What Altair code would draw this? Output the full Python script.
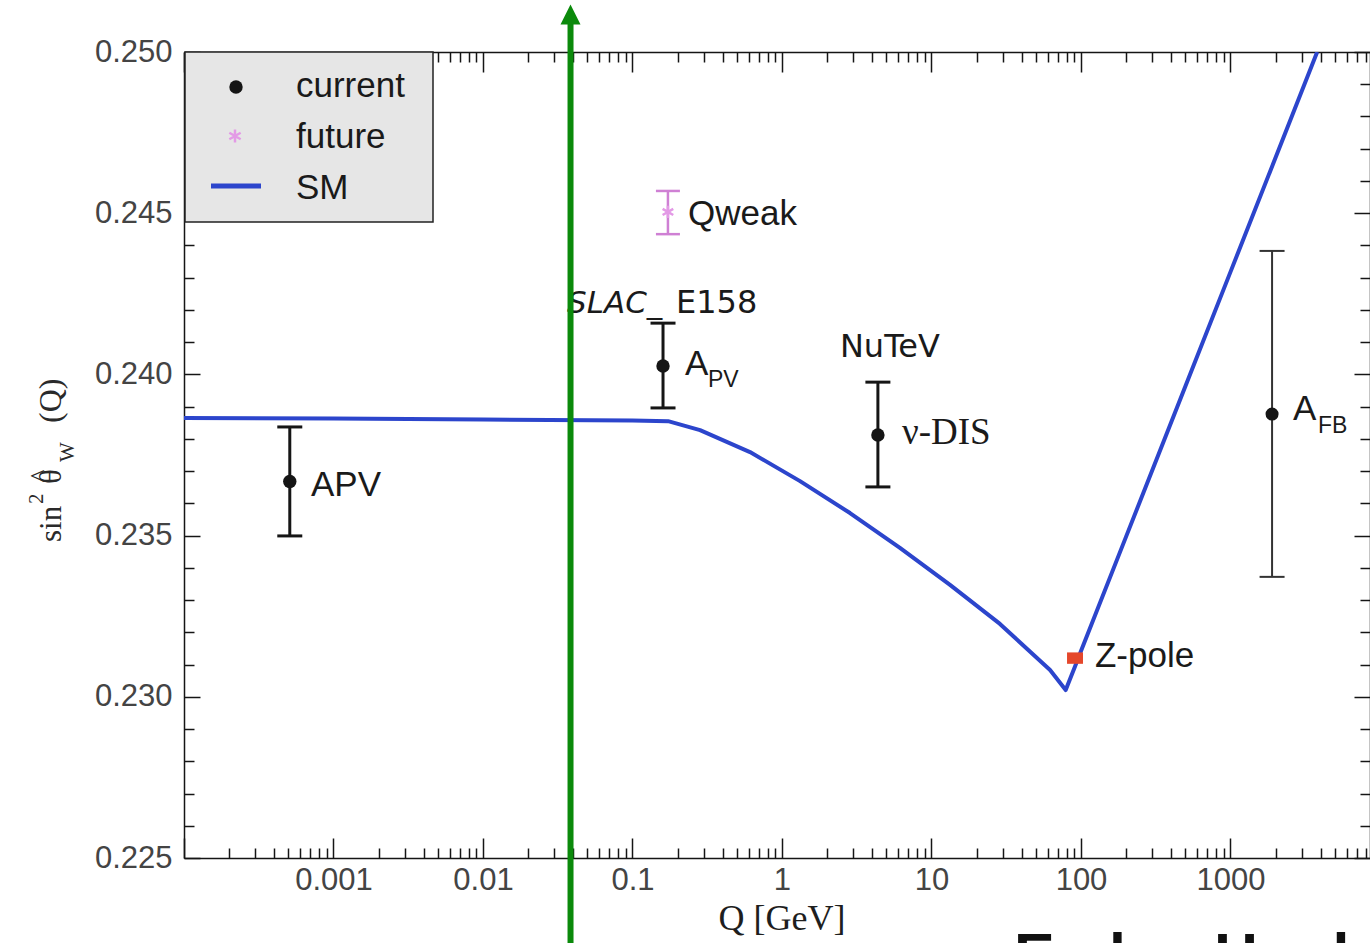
import altair as alt
import pandas as pd

W, H = 1186, 806
XMIN, XMAX = 1e-4, 8573.0

# ---- Standard Model running curve ----
sm_q = [1e-4, 1e-3, 1e-2, 0.1, 0.173, 0.283, 0.611, 1.32, 2.85, 6.15, 13.3, 28.7, 62.1, 79.0,
        91.19, 100, 200, 500, 1000, 2000, 3800]
sm_v = [0.23865, 0.23863, 0.23860, 0.23857, 0.23855, 0.23827, 0.23759, 0.23669, 0.23570, 0.23462,
        0.23347, 0.23226, 0.23083, 0.23021, 0.23094, 0.23142, 0.23496, 0.23964, 0.24318, 0.24672, 0.2500]

# ---- current measurements ----
cur_q = [0.00051, 0.16, 4.38]
cur_v = [0.23668, 0.24026, 0.23812]
cur_lo = [0.23499, 0.23896, 0.23651]
cur_hi = [0.23837, 0.24159, 0.23976]

afb_q = [1897.0]
afb_v = [0.23877]
afb_lo = [0.23372]
afb_hi = [0.24383]

# ---- future ----
qw_q = [0.1726]
qw_v = [0.24504]
qw_lo = [0.24435]
qw_hi = [0.24569]

# ---- Z pole ----
z_q = [91.19]
z_v = [0.2312]

# ---- labels ----
sans_txt = ["APV", "Qweak", "Z-pole", "A", "A"]
sans_q = [0.000707, 0.235, 124.0, 0.2244, 2618.0]
sans_v = [0.23623, 0.24463, 0.23092, 0.23998, 0.23859]
sub_txt = ["PV", "FB"]
sub_q = [0.320, 3846.0]
sub_v = [0.23961, 0.23818]
dv_txt = ["E158", "NuTeV"]
dv_q = [0.1954, 2.44]
dv_v = [0.24190, 0.24054]
it_txt = ["SLAC_"]
it_q = [0.0365]
it_v = [0.24190]
serif_txt = ["\u03bd-DIS"]
serif_q = [6.35]
serif_v = [0.23784]

arrow_q = [0.0385]

x_labels = [0.001, 0.01, 0.1, 1, 10, 100, 1000]
y_labels = [0.225, 0.230, 0.235, 0.240, 0.245, 0.250]
x_ticks = [float(f"{k}e{n}") for n in range(-4, 4) for k in range(1, 10) if float(f"{k}e{n}") <= XMAX]
y_ticks = [round(0.225 + i * 0.001, 3) for i in range(26)]

xs = alt.Scale(type="log", domain=[XMIN, XMAX], nice=False)
ys = alt.Scale(domain=[0.225, 0.250], nice=False, zero=False)

MAJ_X = "abs(log(datum.value)/LN10 - round(log(datum.value)/LN10)) < 0.001"
MAJ_Y = "abs(datum.value*200 - round(datum.value*200)) < 0.001"
INK = "#151515"


def tick_axis(orient, offset, values, test, big, small, domain):
    return alt.Axis(orient=orient, offset=offset, values=values, labels=False, grid=False,
                    domain=domain, domainColor=INK, domainWidth=1.5, tickColor=INK, tickWidth=1.5,
                    tickSize={"condition": {"test": test, "value": big}, "value": small}, title=None)


ax_bottom = alt.Axis(orient="bottom", values=x_labels, format="~g", ticks=False, grid=False,
                     domain=True, domainColor=INK, domainWidth=1.5, labelFont="Liberation Sans",
                     labelFontSize=31, labelColor="#444444", labelPadding=7, title=None)
ax_left = alt.Axis(orient="left", values=y_labels, format=".3f", ticks=False, grid=False,
                   domain=True, domainColor=INK, domainWidth=1.5, labelFont="Liberation Sans",
                   labelFontSize=31, labelColor="#444444", labelPadding=12, title=None)

sm_df = pd.DataFrame({"Q": sm_q, "v": sm_v})
cur_df = pd.DataFrame({"Q": cur_q, "v": cur_v, "lo": cur_lo, "hi": cur_hi})
cur_caps = pd.DataFrame({"Q": cur_q + cur_q, "v": cur_lo + cur_hi})
afb_df = pd.DataFrame({"Q": afb_q, "v": afb_v, "lo": afb_lo, "hi": afb_hi})
afb_caps = pd.DataFrame({"Q": afb_q + afb_q, "v": afb_lo + afb_hi})
qw_df = pd.DataFrame({"Q": qw_q, "v": qw_v, "lo": qw_lo, "hi": qw_hi})
qw_caps = pd.DataFrame({"Q": qw_q + qw_q, "v": qw_lo + qw_hi})
z_df = pd.DataFrame({"Q": z_q, "v": z_v})
one = pd.DataFrame({"k": [0]})


def X(axis=None):
    return alt.X("Q:Q", scale=xs, axis=axis)


def Y(field="v", axis=None):
    return alt.Y(f"{field}:Q", scale=ys, axis=axis)


sm = alt.Chart(sm_df).mark_line(color="#2c45cc", strokeWidth=4, clip=True, strokeJoin="round").encode(
    x=X(ax_bottom), y=Y("v", ax_left))

# invisible carriers for the inward tick axes
carrier1 = alt.Chart(sm_df).mark_point(opacity=0).encode(
    x=X(tick_axis("top", -H, x_ticks, MAJ_X, 20, 10, False)),
    y=Y("v", tick_axis("right", -W, y_ticks, MAJ_Y, 16, 10, False)))
carrier2 = alt.Chart(sm_df).mark_point(opacity=0).encode(
    x=X(tick_axis("bottom", -H, x_ticks, MAJ_X, 20, 10, True)),
    y=Y("v", tick_axis("left", -W, y_ticks, MAJ_Y, 16, 10, True)))

cur_bar = alt.Chart(cur_df).mark_rule(color=INK, strokeWidth=3).encode(x=X(), y=Y("lo"), y2="hi:Q")
cur_cap = alt.Chart(cur_caps).mark_tick(orient="horizontal", size=25, thickness=3, color=INK,
                                         opacity=1).encode(x=X(), y=Y())
cur_pt = alt.Chart(cur_df).mark_circle(size=180, color=INK, opacity=1).encode(x=X(), y=Y())

afb_bar = alt.Chart(afb_df).mark_rule(color="#333333", strokeWidth=2).encode(x=X(), y=Y("lo"), y2="hi:Q")
afb_cap = alt.Chart(afb_caps).mark_tick(orient="horizontal", size=25, thickness=2, color="#333333",
                                         opacity=1).encode(x=X(), y=Y())
afb_pt = alt.Chart(afb_df).mark_circle(size=170, color=INK, opacity=1).encode(x=X(), y=Y())

PINK = "#cf80d4"
STAR = "M0,-1L0,1M-0.87,-0.5L0.87,0.5M-0.87,0.5L0.87,-0.5"
qw_bar = alt.Chart(qw_df).mark_rule(color=PINK, strokeWidth=2.5).encode(x=X(), y=Y("lo"), y2="hi:Q")
qw_cap = alt.Chart(qw_caps).mark_tick(orient="horizontal", size=24, thickness=2.5, color=PINK,
                                       opacity=1).encode(x=X(), y=Y())
qw_pt = alt.Chart(qw_df).mark_point(shape=STAR, size=150, color="#e39ae6", strokeWidth=2.5,
                                     filled=False, opacity=1).encode(x=X(), y=Y())

z_pt = alt.Chart(z_df).mark_point(shape="M-1.4,-1L1.4,-1L1.4,1L-1.4,1Z", filled=True, size=130,
                                   color="#e5472b", opacity=1).encode(x=X(), y=Y())


def labels(txt, q, v, **kw):
    df = pd.DataFrame({"t": txt, "Q": q, "v": v})
    return alt.Chart(df).mark_text(align="left", baseline="alphabetic", color="#1a1a1a", **kw).encode(
        x=X(), y=Y(), text="t:N")


lab_sans = labels(sans_txt, sans_q, sans_v, font="Liberation Sans", fontSize=35)
lab_sub = labels(sub_txt, sub_q, sub_v, font="Liberation Sans", fontSize=23)
lab_dv = labels(dv_txt, dv_q, dv_v, font="DejaVu Sans", fontSize=32)
lab_it = labels(it_txt, it_q, it_v, font="DejaVu Sans", fontSize=31, fontStyle="italic")
lab_serif = labels(serif_txt, serif_q, serif_v, font="Liberation Serif", fontSize=37)

x_title = alt.Chart(pd.DataFrame({"Q": [1.0]})).mark_text(
    align="center", baseline="alphabetic", font="Liberation Serif", fontSize=36, color="#1e1e1e"
).encode(x=X(), y=alt.value(878), text=alt.value("Q [GeV]"))


def ytxt(t, x, y, size, align="left"):
    return alt.Chart(one).mark_text(angle=270, align=align, baseline="alphabetic",
                                    font="Liberation Serif", fontSize=size, color="#2a2a2a").encode(
        x=alt.value(x), y=alt.value(y), text=alt.value(t))


y_title = [
    ytxt("sin", -123, 490, 31),
    ytxt("2", -141, 452, 21),
    ytxt("\u03b8", -123, 432, 31),
    ytxt("^", -135, 424, 27, align="center"),
    ytxt("W", -110, 410, 21),
    ytxt("(Q)", -123, 371, 32),
]

# legend
leg_box = alt.Chart(one).mark_rect(fill="#e6e6e6", stroke="#222222", strokeWidth=1.5).encode(
    x=alt.value(1), x2=alt.value(249), y=alt.value(0), y2=alt.value(170))
leg_dot = alt.Chart(one).mark_circle(size=180, color=INK, opacity=1).encode(
    x=alt.value(52), y=alt.value(35))
leg_star = alt.Chart(one).mark_point(shape=STAR, size=170, color="#e39ae6", strokeWidth=2.5,
                                     filled=False, opacity=1).encode(x=alt.value(51), y=alt.value(84))
leg_line = alt.Chart(one).mark_rule(color="#2c45cc", strokeWidth=5).encode(
    x=alt.value(27), x2=alt.value(77), y=alt.value(134))
leg_txt = [
    alt.Chart(one).mark_text(align="left", baseline="alphabetic", font="Liberation Sans",
                             fontSize=35, color="#1a1a1a").encode(
        x=alt.value(112), y=alt.value(yy), text=alt.value(tt))
    for tt, yy in [("current", 45), ("future", 96), ("SM", 147)]
]

# green arrow
GREEN = "#0b8a0b"
arrow_df = pd.DataFrame({"Q": arrow_q})
arrow_line = alt.Chart(arrow_df).mark_rule(color=GREEN, strokeWidth=6).encode(
    x=X(), y=alt.value(-30), y2=alt.value(895))
arrow_head = alt.Chart(arrow_df).mark_point(shape="M0,-1L1,1L-1,1Z", filled=True, size=400,
                                            color=GREEN, opacity=1).encode(x=X(), y=alt.value(-37.5))

footer = alt.Chart(one).mark_text(align="left", baseline="alphabetic", font="Liberation Sans",
                                  fontSize=61, fontWeight="bold", color="#111111").encode(
    x=alt.value(830), y=alt.value(924), text=alt.value("Emlyn Hughes"))

layers = [sm, carrier1, carrier2, cur_bar, cur_cap, afb_bar, afb_cap, qw_bar, qw_cap, qw_pt,
          cur_pt, afb_pt, z_pt, lab_sans, lab_sub, lab_dv, lab_it, lab_serif, x_title] + y_title + \
         [leg_box, leg_dot, leg_star, leg_line] + leg_txt + [arrow_line, arrow_head, footer]

chart = alt.layer(*layers).resolve_axis(x="independent", y="independent").properties(
    width=W, height=H,
    padding={"left": 184, "top": 52, "right": 0, "bottom": 85},
    autosize=alt.AutoSizeParams(type="none"),
    background="white",
).configure_view(strokeWidth=0)

chart.save("out.html", embed_options={"renderer": "svg", "actions": False})
